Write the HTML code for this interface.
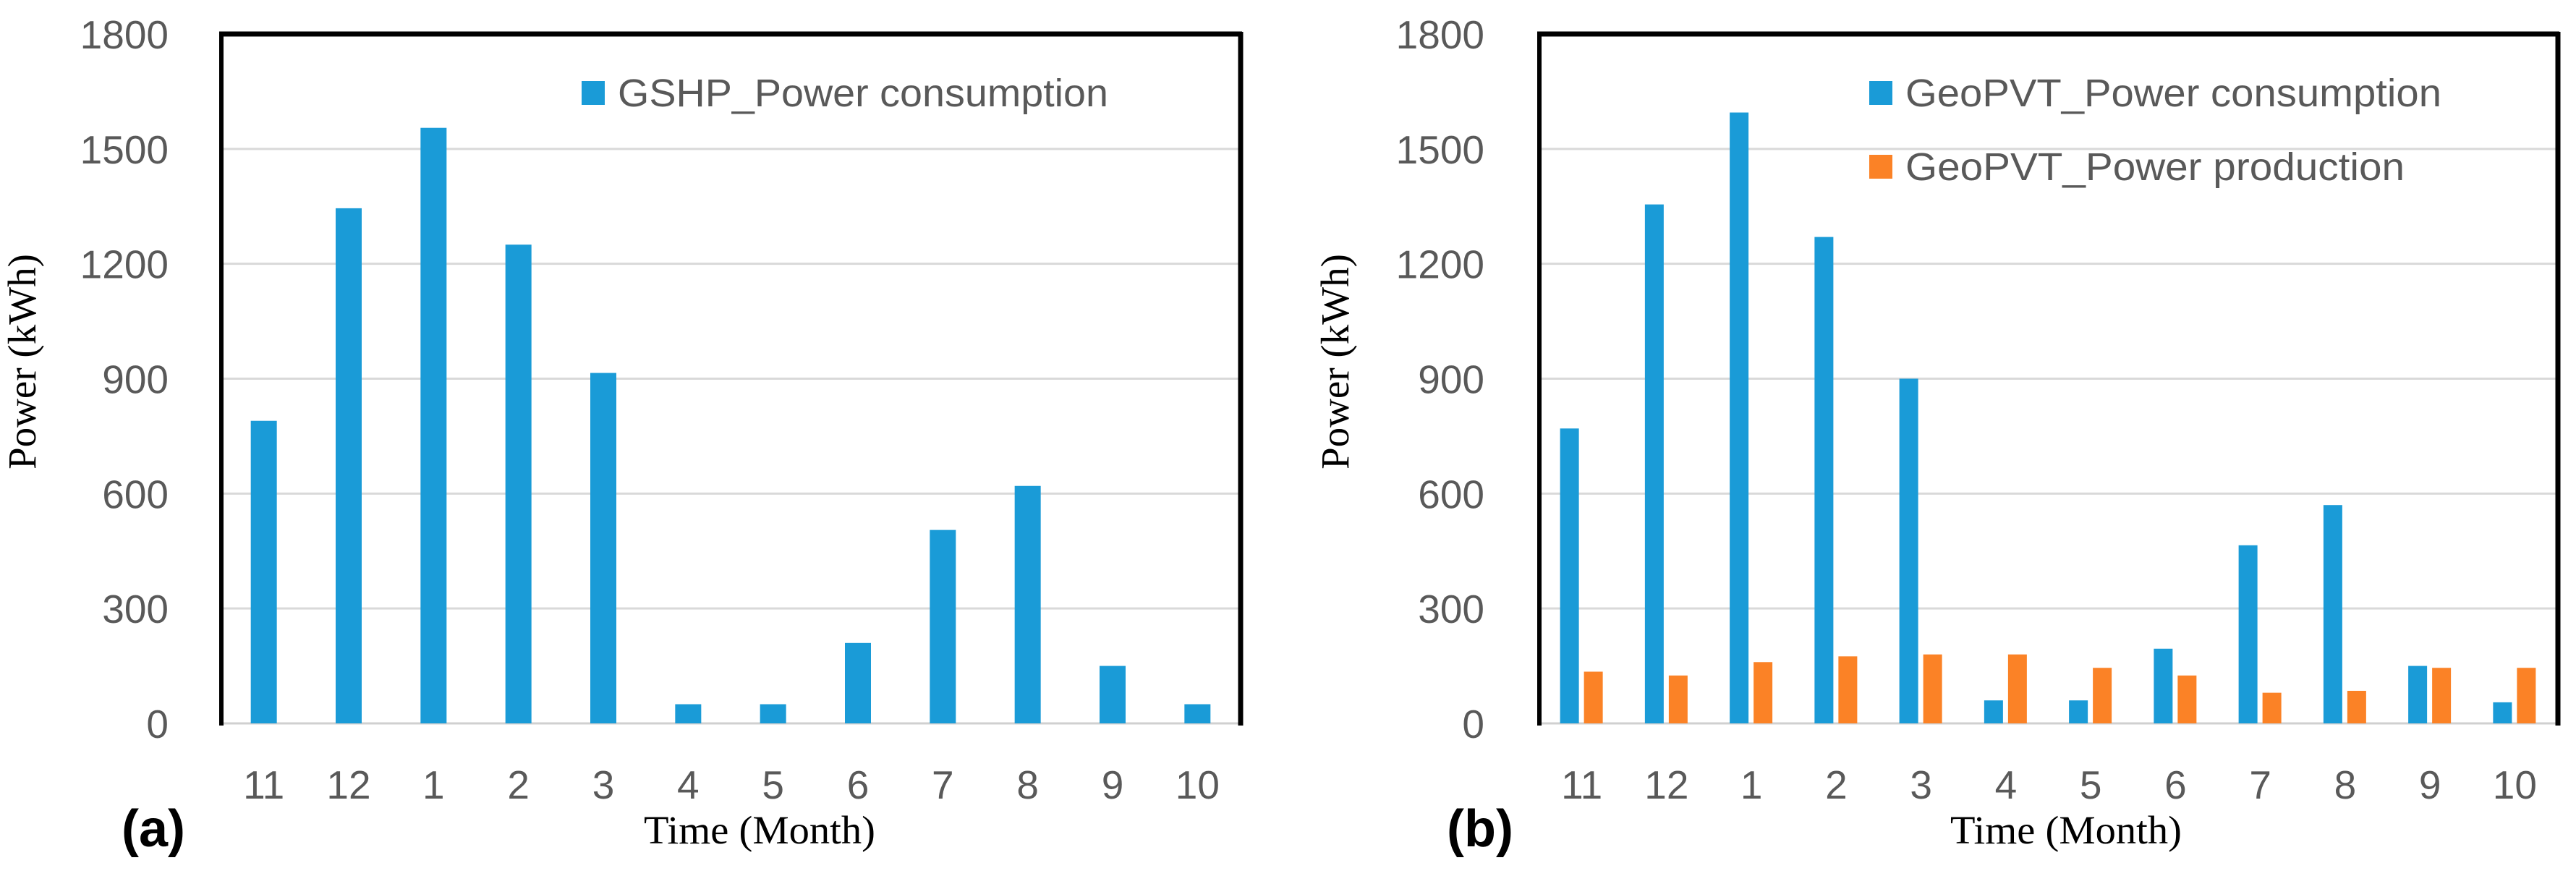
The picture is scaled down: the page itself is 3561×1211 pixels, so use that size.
<!DOCTYPE html>
<html><head><meta charset="utf-8"><style>
html,body{margin:0;padding:0;background:#fff;}
svg{display:block;}
</style></head><body>
<svg id="fig" width="3561" height="1211" viewBox="0 0 3561 1211" xmlns="http://www.w3.org/2000/svg">
<rect x="0" y="0" width="3561" height="1211" fill="#fff"/>
<g id="chartA"></g>
<g id="chartB"></g>
</svg>
<script>
const months = ["11","12","1","2","3","4","5","6","7","8","9","10"];
const yTicks = [0,300,600,900,1200,1500,1800];
const gshpConsumption = [790,1345,1555,1250,915,50,50,210,505,620,150,50];
const geoConsumption = [770,1355,1595,1270,900,60,60,195,465,570,150,55];
const geoProduction = [135,125,160,175,180,180,145,125,80,85,145,145];
const yMax = 1800;

const NS = "http://www.w3.org/2000/svg";
function mk(tag, attrs, parent, text){
  const e = document.createElementNS(NS, tag);
  for (const k in attrs) e.setAttribute(k, attrs[k]);
  if (text !== undefined) e.textContent = text;
  parent.appendChild(e);
  return e;
}

function drawChart(g, cfg){
  const top = 47, base = 1000;
  const yS = v => base - v / yMax * (base - top);
  const catW = (cfg.right - cfg.left) / months.length;
  const xC = i => cfg.left + (i + 0.5) * catW;

  yTicks.forEach(t => {
    if (t > 0 && t < yMax) {
      const gl = mk("line", {x1: cfg.left, x2: cfg.right, y1: yS(t), y2: yS(t), stroke: "#d9d9d9", "stroke-width": 3}, g);
      
      
    }
    const tl = mk("text", {x: cfg.tickRight, y: yS(t) + 20, "text-anchor": "end", "font-family": "Liberation Sans, sans-serif", "font-size": 55, fill: "#595959"}, g, String(t));
    
    
  });

  const ax = mk("line", {x1: cfg.left, x2: cfg.right, y1: base, y2: base, stroke: "#d0d0d0", "stroke-width": 3}, g);
  
  

  cfg.series.forEach(s => {
    s.values.forEach((v, i) => {
      const r = mk("rect", {x: xC(i) + s.off, y: yS(v), width: s.w, height: base - yS(v), fill: s.color}, g);
      
      
    });
  });

  months.forEach((m, i) => {
    const xl = mk("text", {x: xC(i), y: 1104, "text-anchor": "middle", "font-family": "Liberation Sans, sans-serif", "font-size": 55, fill: "#595959"}, g, m);
    
    
  });

  const fl = mk("line", {x1: cfg.left, x2: cfg.left, y1: top - 3, y2: base + 3, stroke: "#000", "stroke-width": 6}, g);
  
  
  const ft = mk("line", {x1: cfg.left - 3, x2: cfg.right + 3, y1: top, y2: top, stroke: "#000", "stroke-width": 7}, g);
  
  
  const fr = mk("line", {x1: cfg.right + 1, x2: cfg.right + 1, y1: top - 3, y2: base + 3, stroke: "#000", "stroke-width": 7}, g);
  
  

  const yt = mk("text", {x: 0, y: 0, transform: "translate(" + (cfg.yTitleX + 17) + ",500) rotate(-90)", "text-anchor": "middle", "font-family": "Liberation Serif, serif", "font-size": 55, fill: "#000"}, g, "Power (kWh)");
  
  

  const xt = mk("text", {x: cfg.xTitleX, y: 1166, "text-anchor": "middle", "font-family": "Liberation Serif, serif", "font-size": 55, fill: "#000", textLength: 320, lengthAdjust: "spacingAndGlyphs"}, g, "Time (Month)");
  
  

  const pl = mk("text", {x: cfg.panelX, y: 1170, "font-family": "Liberation Sans, sans-serif", "font-weight": "bold", "font-size": 72, fill: "#000"}, g, cfg.panel);
  
  

  cfg.legend.forEach((L, k) => {
    const ly = 112 + k * 102;
    const sq = mk("rect", {x: cfg.legX, y: ly, width: 32, height: 33, fill: L.color}, g);
    
    
    const lt = mk("text", {x: cfg.legX + 50, y: ly + 35, "font-family": "Liberation Sans, sans-serif", "font-size": 54, fill: "#595959", textLength: L.len, lengthAdjust: "spacingAndGlyphs"}, g, L.text);
    
    
  });
}

drawChart(document.getElementById("chartA"), {
  left: 306, right: 1714, tickRight: 233, yTitleX: 32, xTitleX: 1050, panel: "(a)", panelX: 168, legX: 804,
  series: [{name: "gshp-consumption", values: gshpConsumption, off: -18, w: 36, color: "#1a9bd7"}],
  legend: [{text: "GSHP_Power consumption", color: "#1a9bd7", len: 678}]
});
drawChart(document.getElementById("chartB"), {
  left: 2128, right: 3535, tickRight: 2052, yTitleX: 1847, xTitleX: 2856, panel: "(b)", panelX: 2000, legX: 2584,
  series: [
    {name: "geopvt-consumption", values: geoConsumption, off: -30, w: 26, color: "#1a9bd7"},
    {name: "geopvt-production", values: geoProduction, off: 3, w: 26, color: "#fb8226"}
  ],
  legend: [
    {text: "GeoPVT_Power consumption", color: "#1a9bd7", len: 741},
    {text: "GeoPVT_Power production", color: "#fb8226", len: 690}
  ]
});
</script>
</body></html>
